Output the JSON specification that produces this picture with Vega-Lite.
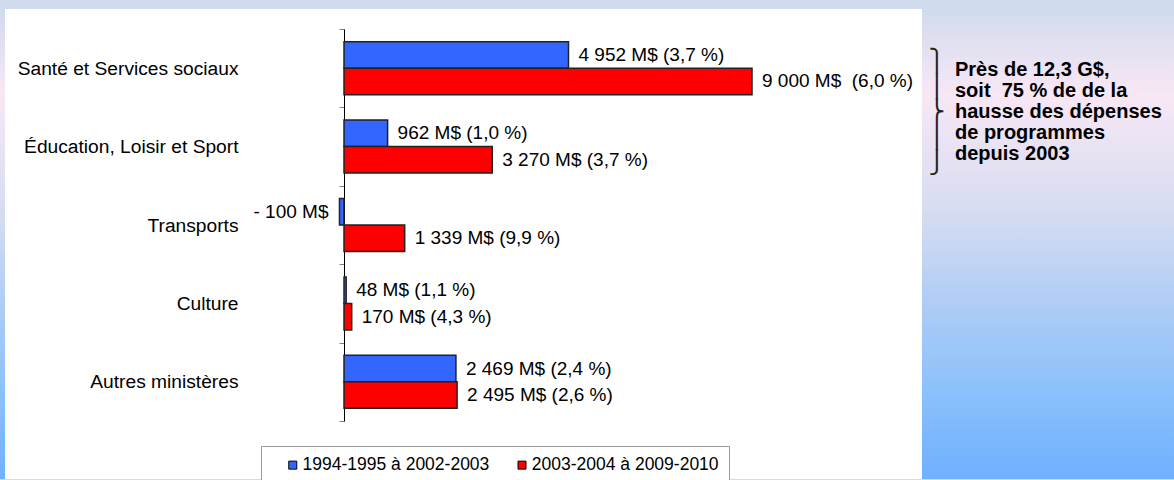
{
  "$schema": "https://vega.github.io/schema/vega-lite/v6.json",
  "background": "#d0dbee",
  "padding": {"left": 0, "top": 0, "right": 0, "bottom": 0},
  "spacing": 0,
  "config": {"font": "Liberation Sans", "view": {"stroke": null}},
  "resolve": {"scale": {"y": "shared"}, "axis": {"y": "independent"}},
  "hconcat": [
    {
      "width": 5,
      "height": 470,
      "data": {"values": [{}]},
      "mark": {"type": "rect", "fill": {"gradient": "linear", "x1": 0, "y1": 0, "x2": 0, "y2": 1, "stops": [{"offset": 0, "color": "#d0dbee"}, {"offset": 0.18, "color": "#f8e7f5"}, {"offset": 0.42, "color": "#d8ddf1"}, {"offset": 0.62, "color": "#b0cdf5"}, {"offset": 0.82, "color": "#8ac0fb"}, {"offset": 1, "color": "#70b0ff"}]}},
      "encoding": {}
    },
    {
      "width": 917,
      "height": 470,
      "view": {"fill": "white", "stroke": null},
      "data": {
        "values": [
          {"category": "Santé et Services sociaux", "series": "1994-1995 à 2002-2003", "value": 4952, "label": "4 952 M$ (3,7 %)"},
          {"category": "Santé et Services sociaux", "series": "2003-2004 à 2009-2010", "value": 9000, "label": "9 000 M$\u00a0 (6,0 %)"},
          {"category": "Éducation, Loisir et Sport", "series": "1994-1995 à 2002-2003", "value": 962, "label": "962 M$ (1,0 %)"},
          {"category": "Éducation, Loisir et Sport", "series": "2003-2004 à 2009-2010", "value": 3270, "label": "3 270 M$ (3,7 %)"},
          {"category": "Transports", "series": "1994-1995 à 2002-2003", "value": -100, "label": "- 100 M$"},
          {"category": "Transports", "series": "2003-2004 à 2009-2010", "value": 1339, "label": "1 339 M$ (9,9 %)"},
          {"category": "Culture", "series": "1994-1995 à 2002-2003", "value": 48, "label": "48 M$ (1,1 %)"},
          {"category": "Culture", "series": "2003-2004 à 2009-2010", "value": 170, "label": "170 M$ (4,3 %)"},
          {"category": "Autres ministères", "series": "1994-1995 à 2002-2003", "value": 2469, "label": "2 469 M$ (2,4 %)"},
          {"category": "Autres ministères", "series": "2003-2004 à 2009-2010", "value": 2495, "label": "2 495 M$ (2,6 %)"}
        ]
      },
      "encoding": {
        "y": {
          "field": "category", "type": "nominal", "sort": null,
          "scale": {"domain": ["Santé et Services sociaux", "Éducation, Loisir et Sport", "Transports", "Culture", "Autres ministères"], "range": [20, 412], "paddingInner": 0, "paddingOuter": 0},
          "axis": {"title": null, "offset": -339, "domainColor": "black", "domainWidth": 1, "tickColor": "#808080", "tickSize": 5, "tickWidth": 1, "tickBand": "extent", "labelPadding": 101, "labelFont": "Liberation Sans", "labelFontSize": 19.2, "labelColor": "black", "labelLimit": 400, "grid": false}
        },
        "yOffset": {"field": "series", "type": "nominal", "sort": null, "scale": {"paddingInner": 0, "paddingOuter": 0.479}},
        "x": {"field": "value", "type": "quantitative", "scale": {"domain": [-7478, 12750], "nice": false}, "axis": null}
      },
      "layer": [
        {
          "mark": {"type": "bar", "stroke": "#222222", "strokeWidth": 1.5},
          "encoding": {
            "color": {
              "field": "series", "type": "nominal", "sort": null,
              "scale": {"domain": ["1994-1995 à 2002-2003", "2003-2004 à 2009-2010"], "range": ["#3366ff", "#ff0000"]},
              "legend": {"orient": "none", "legendX": 261, "legendY": 437, "direction": "horizontal", "columns": 2, "title": "\u00a0", "titleOrient": "left", "titleFontSize": 17, "titlePadding": 13, "padding": 10, "strokeColor": "#999999", "fillColor": "white", "symbolType": "square", "symbolSize": 64, "symbolStrokeColor": "black", "symbolStrokeWidth": 1, "symbolOpacity": 1, "labelFont": "Liberation Sans", "labelFontSize": 17.5, "labelColor": "black", "labelOffset": 1, "columnPadding": 23.25, "labelLimit": 400}
            }
          }
        },
        {
          "mark": {"type": "text", "align": {"expr": "datum.value < 0 ? 'right' : 'left'"}, "dx": {"expr": "datum.value < 0 ? -11 : 10"}, "baseline": "middle", "font": "Liberation Sans", "fontSize": 19, "color": "black"},
          "encoding": {"text": {"field": "label", "type": "nominal"}}
        }
      ]
    },
    {
      "width": 252,
      "height": 470,
      "data": {"values": [{"span": "Santé et Services sociaux"}]},
      "layer": [
        {
          "mark": {"type": "rect", "fill": {"gradient": "linear", "x1": 0, "y1": 0, "x2": 0, "y2": 1, "stops": [{"offset": 0, "color": "#d0dbee"}, {"offset": 0.18, "color": "#f8e7f5"}, {"offset": 0.42, "color": "#d8ddf1"}, {"offset": 0.62, "color": "#b0cdf5"}, {"offset": 0.82, "color": "#8ac0fb"}, {"offset": 1, "color": "#70b0ff"}]}},
          "encoding": {}
        },
        {
          "mark": {"type": "text", "text": ["⎫", "⎪", "⎬", "⎪", "⎭"], "font": "DejaVu Sans", "fontSize": 22, "lineHeight": 25.4, "align": "center", "baseline": "middle", "dx": -111, "dy": -46, "color": "#222222"},
          "encoding": {"y": {"field": "span", "type": "nominal", "bandPosition": 1, "scale": {"domain": ["Santé et Services sociaux", "Éducation, Loisir et Sport", "Transports", "Culture", "Autres ministères"], "range": [20, 412], "paddingInner": 0, "paddingOuter": 0}, "axis": null}}
        },
        {
          "mark": {"type": "text", "text": ["Près de 12,3 G$,", "soit\u00a0 75 % de de la", "hausse des dépenses", "de programmes", "depuis 2003"], "font": "Liberation Sans", "fontWeight": "bold", "fontSize": 20, "lineHeight": 21, "align": "left", "baseline": "middle", "dx": -93, "dy": -37, "color": "black"},
          "encoding": {"y": {"field": "span", "type": "nominal", "bandPosition": 1, "axis": null}}
        }
      ]
    }
  ]
}
